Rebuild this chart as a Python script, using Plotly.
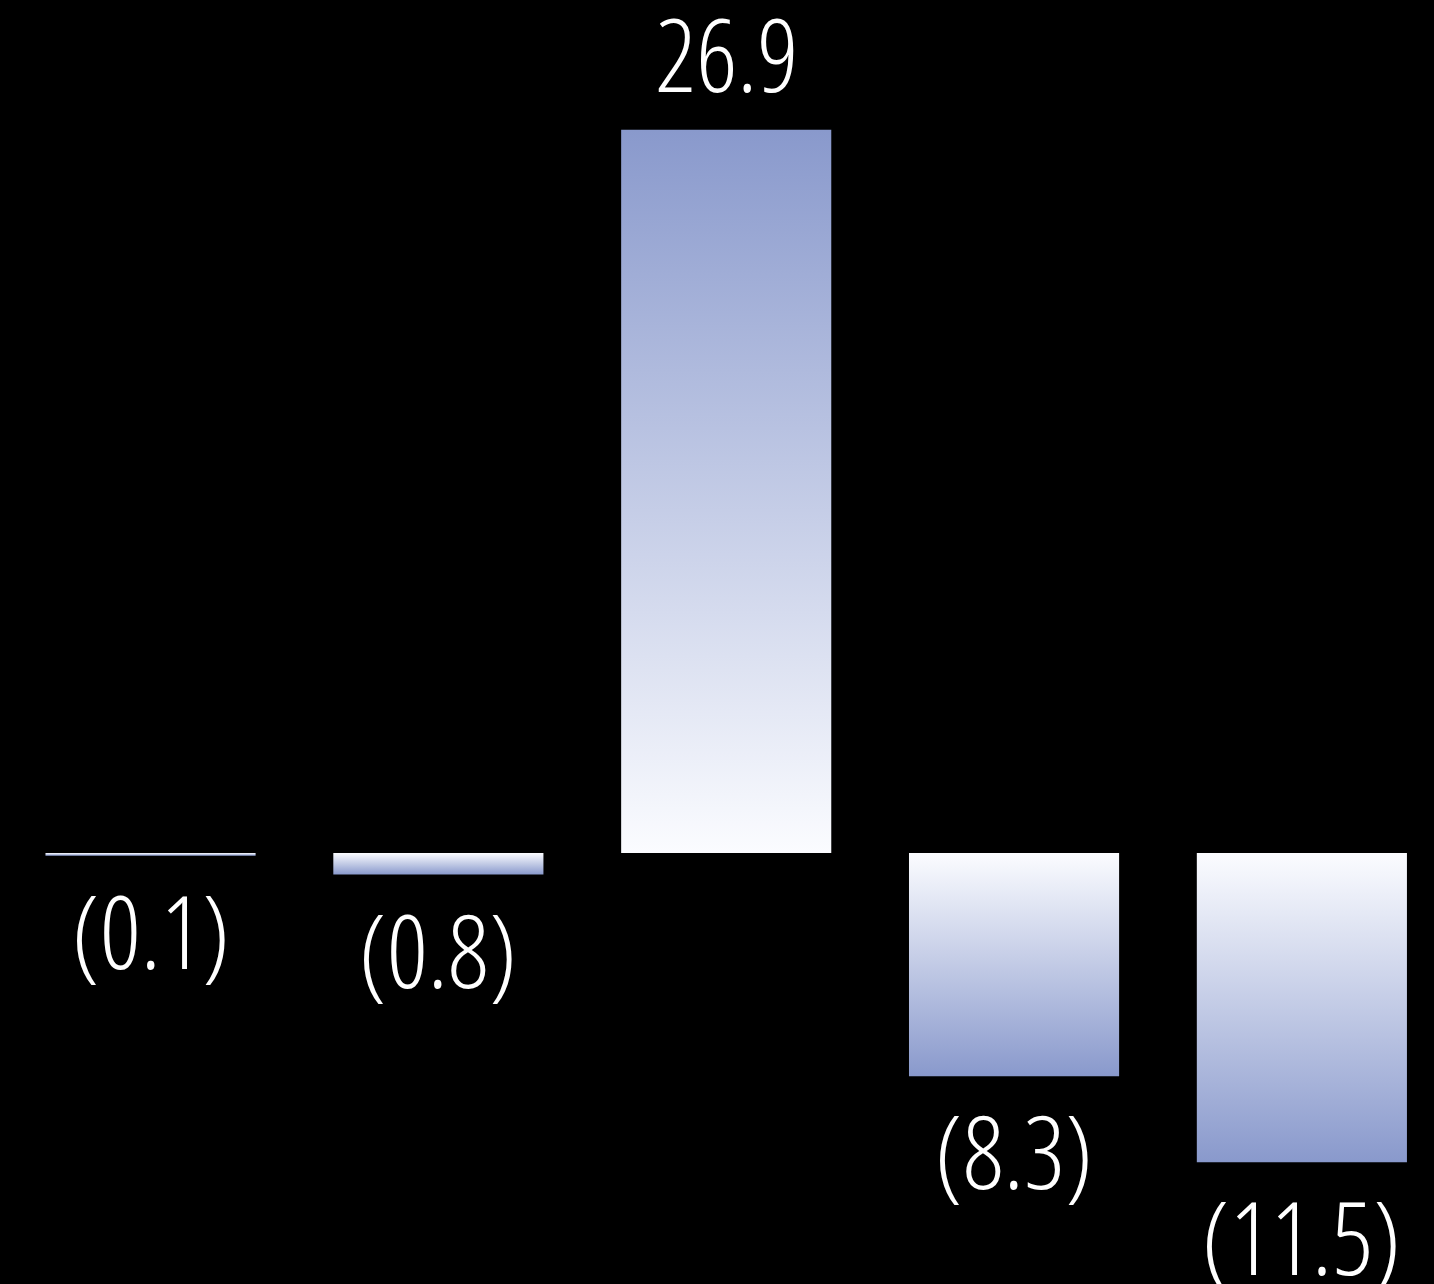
import plotly.graph_objects as go

# Change values (negatives shown in parentheses)
values = [-0.1, -0.8, 26.9, -8.3, -11.5]
value_labels = ["(0.1)", "(0.8)", "26.9", "(8.3)", "(11.5)"]

LIGHT = "rgb(251,252,255)"
DEEP = "rgb(137,153,204)"
BAR_WIDTH = 0.73
FONT = "Open Sans, Roboto, sans-serif"

fig = go.Figure()

for i, v in enumerate(values):
    x0, x1 = i - BAR_WIDTH / 2, i + BAR_WIDTH / 2
    # gradient runs from pale at the baseline to deep blue at the bar's end
    scale = [[0, LIGHT], [1, DEEP]] if v > 0 else [[0, DEEP], [1, LIGHT]]
    fig.add_trace(go.Scatter(
        x=[x0, x0, x1, x1, x0],
        y=[0, v, v, 0, 0],
        mode="lines",
        line=dict(width=0, color="rgba(0,0,0,0)"),
        fill="toself",
        fillgradient=dict(type="vertical", colorscale=scale),
        hoverinfo="skip",
        showlegend=False,
    ))
    fig.add_annotation(
        x=i, y=v,
        text=f'<span style="font-stretch:75%">{value_labels[i]}</span>',
        showarrow=False,
        xanchor="center",
        yanchor="bottom" if v > 0 else "top",
        yshift=6 if v > 0 else -3,
        font=dict(family=FONT, size=101, color="white", weight=300),
    )

fig.update_layout(
    width=1434, height=1284,
    margin=dict(l=0, r=0, t=0, b=0),
    paper_bgcolor="black", plot_bgcolor="black",
    xaxis=dict(range=[-0.523, 4.459], visible=False, fixedrange=True),
    yaxis=dict(range=[-16.03, 31.73], visible=False, fixedrange=True),
)

fig.write_html("out.html")
